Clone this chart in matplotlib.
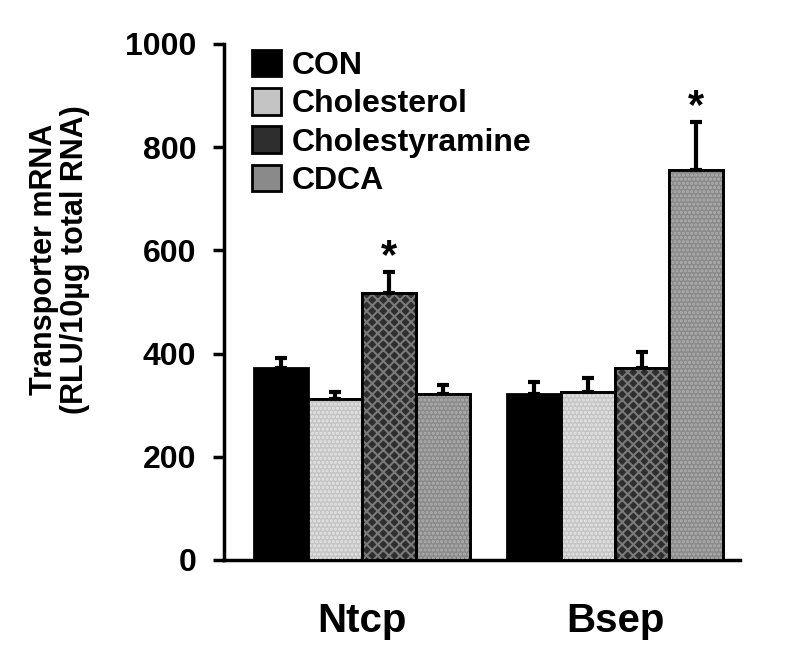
import matplotlib
matplotlib.use("Agg")
import matplotlib.pyplot as plt
import numpy as np

plt.rcParams['font.family'] = ['Liberation Sans', 'DejaVu Sans']
plt.rcParams['font.weight'] = 'bold'
plt.rcParams['hatch.linewidth'] = 1.5

genes = ["Ntcp", "Bsep"]
groups = ["CON", "Cholesterol", "Cholestyramine", "CDCA"]
means = {"CON": [372, 322],
         "Cholesterol": [312, 326],
         "Cholestyramine": [517, 372],
         "CDCA": [322, 756]}
errs = {"CON": [19, 23],
        "Cholesterol": [14, 27],
        "Cholestyramine": [41, 31],
        "CDCA": [17, 93]}
signif = {"Cholestyramine": [True, False], "CDCA": [False, True]}

faces = ["#000000", "#c4c4c4", "#2e2e2e", "#8a8a8a"]
hatches = [None, "....", "xxx", "...."]
hatch_cols = [None, "#e6e6e6", "#7a7a7a", "#b0b0b0"]

fig = plt.figure(figsize=(8, 6.65), dpi=100)
ax = fig.add_axes([0.28, 0.158, 0.645, 0.776])

x = np.arange(len(genes))
w = 0.213
for i, g in enumerate(groups):
    pos = x + (i - 1.5) * w
    ax.bar(pos, means[g], w, color=faces[i], edgecolor="black", linewidth=2,
           yerr=[np.zeros(len(genes)), errs[g]], capsize=4,
           error_kw=dict(elinewidth=3, capthick=3, ecolor="black"),
           label=g, zorder=2)
    if hatches[i]:
        ax.bar(pos, means[g], w, color="none", edgecolor=hatch_cols[i],
               hatch=hatches[i], linewidth=0, zorder=3)
        ax.bar(pos, means[g], w, color="none", edgecolor="black",
               linewidth=2, zorder=4)
    if g in signif:
        for j, s in enumerate(signif[g]):
            if s:
                ax.text(pos[j], means[g][j] + errs[g][j] + 8, "*",
                        ha="center", va="baseline", fontsize=30, fontweight="bold")

ax.set_xlim(-0.545, 1.494)
ax.set_ylim(0, 1000)
ax.set_yticks(range(0, 1001, 200))
ax.set_xticks(x)
ax.set_xticklabels(genes, fontsize=29, fontweight="bold")
ax.tick_params(axis="x", length=0, pad=30)
ax.tick_params(axis="y", labelsize=23, length=8, width=2.5, direction="out", pad=12)
for lab in ax.get_yticklabels():
    lab.set_fontweight("bold")
ax.spines["top"].set_visible(False)
ax.spines["right"].set_visible(False)
ax.spines["left"].set_linewidth(2.5)
ax.spines["bottom"].set_linewidth(2.5)

fig.text(0.074, 0.61, "Transporter mRNA\n(RLU/10\u00b5g total RNA)", rotation=90,
         ha="center", va="center", fontsize=22, fontweight="bold", linespacing=1.05)

handles, labels = ax.get_legend_handles_labels()
leg = ax.legend(handles, labels, loc="upper left", bbox_to_anchor=(0.315, 0.925),
                bbox_transform=fig.transFigure, frameon=False, fontsize=23,
                handlelength=0.9, handleheight=0.9, handletextpad=0.35,
                labelspacing=0.22, borderpad=0, borderaxespad=0)
for t in leg.get_texts():
    t.set_fontweight("bold")

fig.savefig("out.png", dpi=100)
